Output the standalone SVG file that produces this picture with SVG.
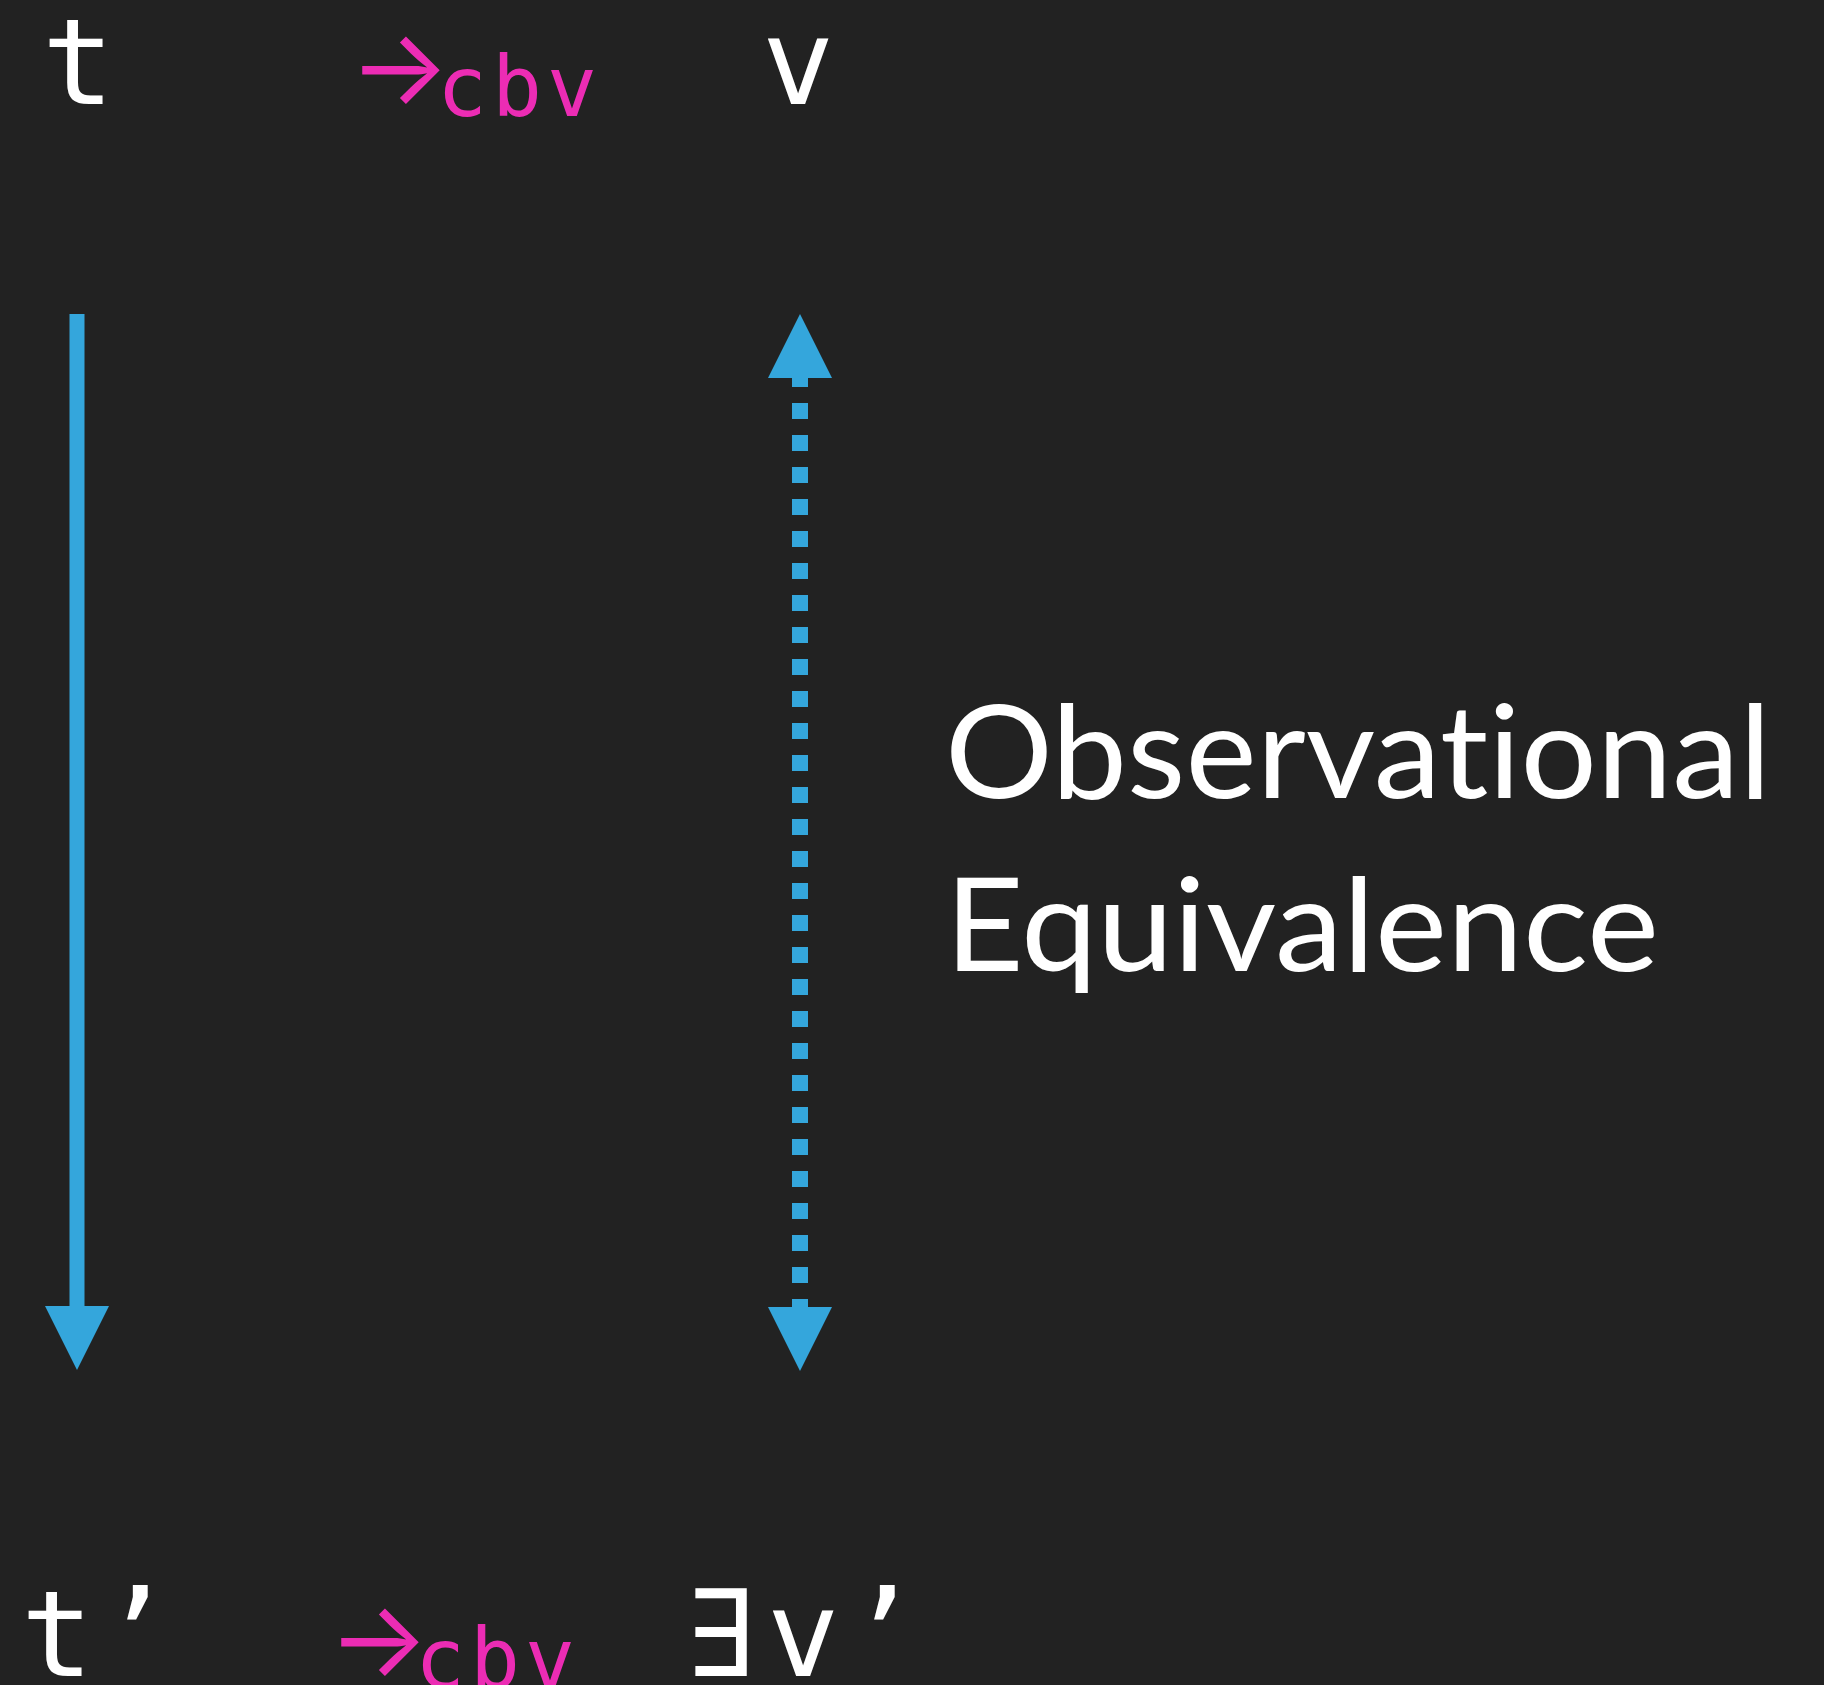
<svg xmlns="http://www.w3.org/2000/svg" width="1824" height="1685" viewBox="0 0 1824 1685">
<style>
.sym{font-family:"DejaVu Sans Mono","Liberation Mono",monospace;font-size:120px;fill:#ffffff;text-anchor:middle}
.arr{font-family:Inter,"DejaVu Sans",sans-serif;font-size:106px;fill:#ec2cb4}
.sub{font-family:"DejaVu Sans Mono","Liberation Mono",monospace;font-size:83px;fill:#ec2cb4;letter-spacing:5px}
.lbl{font-family:Lato,"Open Sans",sans-serif;font-size:130px;fill:#ffffff;font-variant-ligatures:none;font-feature-settings:"liga" 0}
.solid{stroke:#34a6dc;stroke-width:15;fill:none}
.dotted{stroke:#34a6dc;stroke-width:16;fill:none;stroke-dasharray:16 16;stroke-dashoffset:7}
</style>
<defs>
<marker id="head" viewBox="0 0 64 64" markerWidth="64" markerHeight="64" markerUnits="userSpaceOnUse" refX="0" refY="32" orient="auto-start-reverse">
<path d="M0,0 L64,32 L0,64 Z" fill="#34a6dc"/>
</marker>
</defs>
<rect width="1824" height="1685" fill="#222222"/>
<g id="node-t"><text class="sym" x="78" y="104">t</text></g>
<g id="label-top-cbv"><text class="arr" x="349" y="104">→</text><text class="sub" x="437" y="116">cbv</text></g>
<g id="node-v"><text class="sym" x="798" y="104">v</text></g>
<g id="node-t-prime"><text class="sym" x="57" y="1676">t</text><text class="sym" x="136" y="1676">’</text></g>
<g id="label-bottom-cbv"><text class="arr" x="328" y="1676">→</text><text class="sub" x="415" y="1688">cbv</text></g>
<g id="node-v-prime"><text class="sym" x="721" y="1676">∃</text><text class="sym" x="803" y="1676">v</text><text class="sym" x="883" y="1676">’</text></g>
<g id="connectors">
<line class="solid" x1="77" y1="314" x2="77" y2="1306" marker-end="url(#head)"/>
<line class="dotted" x1="800" y1="378" x2="800" y2="1307" marker-start="url(#head)" marker-end="url(#head)"/>
</g>
<g id="label-obs">
<text class="lbl" x="945" y="798" textLength="826" lengthAdjust="spacingAndGlyphs">Observational</text>
<text class="lbl" x="945" y="971" textLength="714" lengthAdjust="spacingAndGlyphs">Equivalence</text>
</g>
</svg>
